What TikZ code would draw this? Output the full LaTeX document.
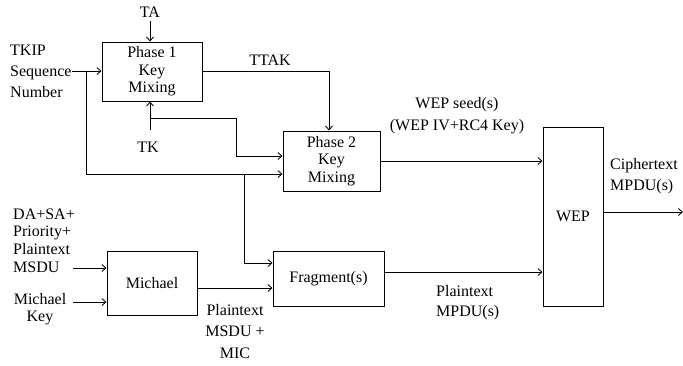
\documentclass[tikz,border=0pt]{standalone}
\usepackage{fontspec}
\setmainfont{Liberation Serif}
\usetikzlibrary{arrows.meta}
\begin{document}
\begin{tikzpicture}[x=1pt,y=-1pt,
  every node/.style={font=\fontsize{16}{17.5}\selectfont},
  blk/.style={draw,line width=1pt,inner sep=0pt,align=center},
  lbl/.style={inner sep=0pt,align=center},
  arr/.style={line width=0.85pt,-{Straight Barb[length=4pt,width=7pt]}},
  ln/.style={line width=0.85pt}]
\useasboundingbox (0,0) rectangle (683,365);
% blocks
\node[blk,minimum width=100pt,minimum height=59pt] (p1) at (152,71.5) {Phase 1\\Key\\Mixing};
\node[blk,minimum width=97pt,minimum height=60pt] (p2) at (331.5,161) {Phase 2\\Key\\Mixing};
\node[blk,minimum width=60pt,minimum height=179pt] (wep) at (573,216.5) {WEP};
\node[blk,minimum width=111pt,minimum height=55pt] (frag) at (328.5,278.5) {Fragment(s)};
\node[blk,minimum width=90pt,minimum height=64pt] (mich) at (152,283) {Michael};
% labels
\node[lbl] (ta) at (150,12) {TA};
\node[lbl,anchor=west,align=left,font=\fontsize{16}{21}\selectfont] (tkip) at (10,71) {TKIP\\Sequence\\Number};
\node[lbl] (tk) at (148,147) {TK};
\node[lbl] (ttak) at (270,60) {TTAK};
\node[lbl,font=\fontsize{16}{22}\selectfont] (seed) at (457,116) {WEP seed(s)\\(WEP IV+RC4 Key)};
\node[lbl,anchor=west,align=left,font=\fontsize{16}{20.5}\selectfont] (ctext) at (610,176) {Ciphertext\\MPDU(s)};
\node[lbl,anchor=west,align=left,font=\fontsize{16}{20}\selectfont] (pmpdu) at (436,303) {Plaintext\\MPDU(s)};
\node[lbl,font=\fontsize{16}{21.5}\selectfont] (pmsdu) at (235,331.5) {Plaintext\\MSDU +\\MIC};
\node[lbl,anchor=west,align=left,font=\fontsize{16}{17.7}\selectfont] (dasa) at (13,240.5) {DA+SA+\\Priority+\\Plaintext\\MSDU};
\node[lbl,font=\fontsize{16}{17}\selectfont] (mkey) at (40,309.5) {Michael\\Key};
% coordinates
\coordinate (ta0) at (150,21);
\coordinate (tk0) at (150,130);
\coordinate (j1) at (86,71);
\coordinate (j2) at (150,118);
\coordinate (j3) at (244,174);
\coordinate (in1) at (73,268);
\coordinate (in2) at (73,302);
\coordinate (out) at (683,212);
% connectors
\draw[arr] (ta0) -- (ta0 |- p1.north);
\draw[arr] (72,71) -- (72,71 -| p1.west);
\draw[arr] (j1) |- ([yshift=-13pt]p2.west);
\draw[arr] (p1.east |- 0,71) -| ([xshift=-2.5pt]p2.north);
\draw[arr] (tk0) -- (tk0 |- p1.south);
\draw[arr] (j2) -| (236,156) -- (236,156 -| p2.west);
\draw[arr] (j3) |- (244,263 -| frag.west);
\draw[arr] (mich.east |- 0,288) -- (mich.east |- 0,288 -| frag.west);
\draw[arr] (frag.east |- 0,272) -- (frag.east |- 0,272 -| wep.west);
\draw[arr] (p2.east) -- (p2.east -| wep.west);
\draw[arr] (wep.east |- out) -- (out);
\draw[arr] (in1) -- (in1 -| mich.west);
\draw[arr] (in2) -- (in2 -| mich.west);
\end{tikzpicture}
\end{document}
